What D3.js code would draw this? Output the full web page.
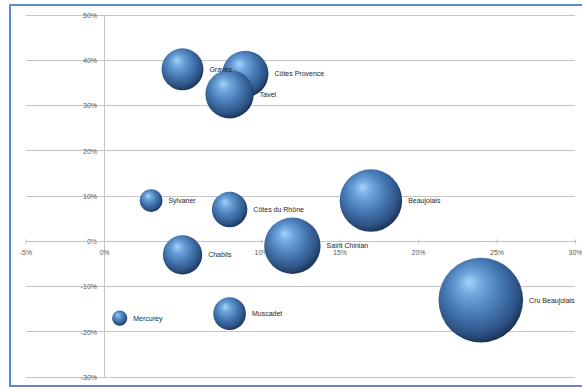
<!DOCTYPE html>
<html><head><meta charset="utf-8">
<script src="https://cdn.jsdelivr.net/npm/d3@7"></script>
<style>
html,body{margin:0;padding:0;background:#fff;}
svg{display:block;}
</style></head>
<body>
<svg id="chart" width="582" height="387"></svg>
<script>
const names = ["Graves","Côtes Provence","Tavel","Sylvaner","Côtes du Rhône","Beaujolais","Saint Chinian","Chablis","Cru Beaujolais","Mercurey","Muscadet"];
const xValues = [5, 9, 8, 3, 8, 17, 12, 5, 24, 1, 8];
const yValues = [38, 37, 32.5, 9, 7, 9, -1, -3, -13, -17, -16];
const sizes = [24.5, 30, 32.7, 7.2, 17.6, 54.5, 44.4, 21.6, 100, 3.2, 14.9];
const xTicks = [-5, 0, 5, 10, 15, 20, 25, 30];
const yTicks = [-30, -20, -10, 0, 10, 20, 30, 40, 50];

const svg = d3.select("#chart");
const x = d3.scaleLinear().domain([-5, 30]).range([25.5, 575]);
const y = d3.scaleLinear().domain([-30, 50]).range([377, 15]);
const r = d3.scaleSqrt().domain([0, 100]).range([0, 42.3]);

const defs = svg.append("defs");
const g = defs.append("radialGradient").attr("id","sphere")
  .attr("cx","45%").attr("cy","42%").attr("r","62%").attr("fx","36%").attr("fy","28%");
g.append("stop").attr("offset","0%").attr("stop-color","#a6d4f7");
g.append("stop").attr("offset","22%").attr("stop-color","#6ea6dd");
g.append("stop").attr("offset","55%").attr("stop-color","#4577b2");
g.append("stop").attr("offset","82%").attr("stop-color","#2d5283");
g.append("stop").attr("offset","100%").attr("stop-color","#15294a");

// border
svg.append("rect").attr("x",10).attr("y",5).attr("width",590).attr("height",381)
  .attr("fill","none").attr("stroke","#5a8ad0").attr("stroke-width",2);

// gridlines
svg.append("g").selectAll("line").data(yTicks).join("line")
  .attr("x1", x(-5)).attr("x2", x(30))
  .attr("y1", d => y(d)).attr("y2", d => y(d))
  .attr("stroke","#c4c4c4").attr("stroke-width",1).attr("shape-rendering","crispEdges");

const fmt = d => d + "%";

// y axis
const yAxis = svg.append("g").attr("transform",`translate(${x(0)},0)`)
  .call(d3.axisLeft(y).tickValues(yTicks).tickFormat(fmt).tickSize(0).tickPadding(7));
yAxis.select(".domain").attr("stroke","#c4c4c4").attr("shape-rendering","crispEdges");
yAxis.selectAll("text").attr("fill","#595959").style("font-family","'Liberation Sans', Arial, sans-serif").style("font-size","7px");

// x axis
const xAxis = svg.append("g").attr("transform",`translate(0,${y(0)})`)
  .call(d3.axisBottom(x).tickValues(xTicks).tickFormat(fmt).tickSizeInner(3).tickSizeOuter(0).tickPadding(6));
xAxis.select(".domain").attr("stroke","#c4c4c4").attr("shape-rendering","crispEdges");
xAxis.selectAll(".tick line").attr("stroke","#c4c4c4").attr("y1",-2);
xAxis.selectAll("text").attr("fill","#595959").style("font-family","'Liberation Sans', Arial, sans-serif").style("font-size","7px");

// bubbles
const data = names.map((n,i) => ({name:n, x:xValues[i], y:yValues[i], s:sizes[i]}));
svg.append("g").selectAll("circle").data(data).join("circle")
  .attr("cx", d => x(d.x)).attr("cy", d => y(d.y)).attr("r", d => r(d.s))
  .attr("fill","url(#sphere)");

// labels
svg.append("g").selectAll("text").data(data).join("text")
  .attr("x", d => x(d.x) + r(d.s) + 6).attr("y", d => y(d.y))
  .attr("dy","0.35em")
  .attr("fill","#262626")
  .style("font-family","'Liberation Sans', Arial, sans-serif").style("font-size","7px")
  .text(d => d.name);
</script>
</body></html>
